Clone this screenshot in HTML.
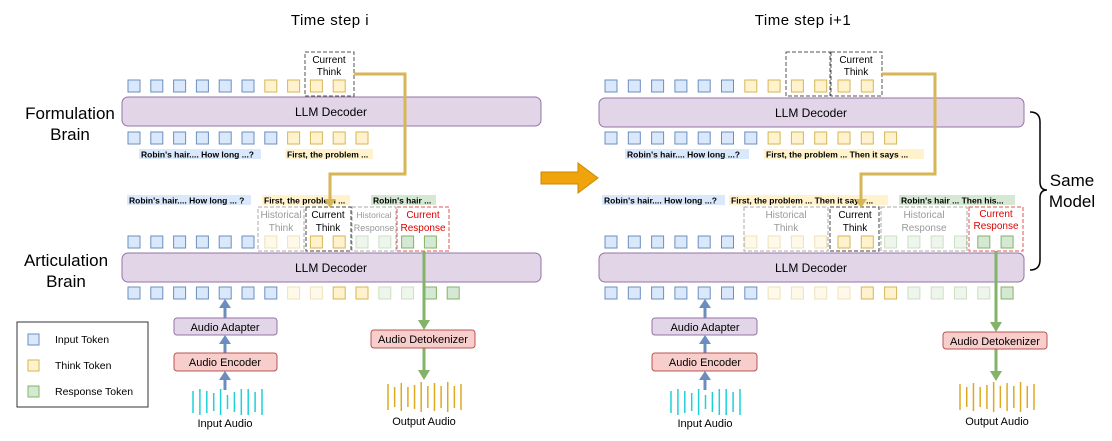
<!DOCTYPE html>
<html><head><meta charset="utf-8"><style>
body{margin:0;background:#fff;}
svg{display:block;font-family:"Liberation Sans",Arial,sans-serif;}
</style></head><body>
<svg id="s" width="1112" height="441" viewBox="0 0 1112 441" xmlns="http://www.w3.org/2000/svg">
<text x="330" y="25" font-size="15" text-anchor="middle" letter-spacing="0.5">Time step i</text>
<text x="803" y="25" font-size="15" text-anchor="middle" letter-spacing="0.5">Time step i+1</text>
<g font-size="17" text-anchor="middle">
<text x="70" y="119">Formulation</text><text x="70" y="140">Brain</text>
<text x="66" y="266">Articulation</text><text x="66" y="287">Brain</text>
<text x="1072" y="186">Same</text><text x="1072" y="207">Model</text>
</g>
<g fill="#e1d5e7" stroke="#9673a6" stroke-width="1">
<rect x="122" y="97" width="419" height="29" rx="6"/>
<rect x="122" y="253" width="419" height="29" rx="6"/>
<rect x="599" y="98" width="425" height="29" rx="6"/>
<rect x="599" y="253" width="425" height="29" rx="6"/>
</g>
<g font-size="12" text-anchor="middle">
<text x="331" y="116">LLM Decoder</text><text x="331" y="272">LLM Decoder</text>
<text x="811" y="117">LLM Decoder</text><text x="811" y="272">LLM Decoder</text>
</g>
<g id="tok"></g>
<g font-size="8.5" font-weight="bold">
<rect x="139" y="149" width="122" height="10" fill="#dae8fc"/><text x="141" y="157.5">Robin's hair.... How long ...?</text>
<rect x="285" y="149" width="88" height="10" fill="#fff2cc"/><text x="287" y="157.5">First, the problem ...</text>
<rect x="127" y="195" width="124" height="10" fill="#dae8fc"/><text x="129" y="203.5">Robin's hair.... How long ... ?</text>
<rect x="262" y="195" width="88" height="10" fill="#fff2cc"/><text x="264" y="203.5">First, the problem ...</text>
<rect x="371" y="195" width="65" height="10" fill="#d5e8d4"/><text x="373" y="203.5">Robin's hair ...</text>
<rect x="625" y="149" width="124" height="10" fill="#dae8fc"/><text x="627" y="157.5">Robin's hair.... How long ...?</text>
<rect x="764" y="149" width="160" height="10" fill="#fff2cc"/><text x="766" y="157.5">First, the problem ... Then it says ...</text>
<rect x="602" y="195" width="123" height="10" fill="#dae8fc"/><text x="604" y="203.5">Robin's hair.... How long ...?</text>
<rect x="729" y="195" width="159" height="10" fill="#fff2cc"/><text x="731" y="203.5">First, the problem ... Then it says ...</text>
<rect x="899" y="195" width="116" height="10" fill="#d5e8d4"/><text x="901" y="203.5">Robin's hair ... Then his...</text>
</g>
<g fill="none" stroke-dasharray="4,2" stroke-width="1">
<rect x="305" y="52" width="49" height="44" stroke="#555"/>
<rect x="786" y="52" width="44" height="44" stroke="#555"/>
<rect x="831" y="52" width="51" height="44" stroke="#555"/>
<rect x="258" y="207" width="46" height="44" stroke="#aaa"/>
<rect x="306" y="207" width="45" height="44" stroke="#444"/>
<rect x="352" y="207" width="44" height="44" stroke="#aaa"/>
<rect x="397" y="207" width="52" height="44" stroke="#e05555"/>
<rect x="744" y="207" width="84" height="44" stroke="#aaa"/>
<rect x="830" y="207" width="49" height="44" stroke="#444"/>
<rect x="881" y="207" width="86" height="44" stroke="#aaa"/>
<rect x="969" y="207" width="54" height="44" stroke="#e05555"/>
</g>
<g font-size="10" text-anchor="middle">
<text x="329" y="63">Current</text><text x="329" y="75">Think</text>
<text x="856" y="63">Current</text><text x="856" y="75">Think</text>
<text x="281" y="218" fill="#999">Historical</text><text x="281" y="231" fill="#999">Think</text>
<text x="328" y="218">Current</text><text x="328" y="231">Think</text>
<text x="374" y="218" fill="#999" font-size="8.5">Historical</text><text x="374" y="231" fill="#999" font-size="9">Response</text>
<text x="423" y="218" fill="#dd0000">Current</text><text x="423" y="231" fill="#dd0000">Response</text>
<text x="786" y="218" fill="#999">Historical</text><text x="786" y="231" fill="#999">Think</text>
<text x="855" y="218">Current</text><text x="855" y="231">Think</text>
<text x="924" y="218" fill="#999">Historical</text><text x="924" y="231" fill="#999">Response</text>
<text x="996" y="217" fill="#dd0000">Current</text><text x="996" y="229" fill="#dd0000">Response</text>
</g>
<g fill="none" stroke="#d6b656" stroke-width="3">
<polyline points="354,74 405,74 405,174 330,174 330,200"/>
<polyline points="882,74 935,74 935,174 861,174 861,200"/>
</g>
<g fill="#d6b656"><polygon points="324,199 336,199 330,208"/><polygon points="855,199 867,199 861,208"/></g>
<g stroke="#82b366" stroke-width="3" fill="none">
<line x1="424" y1="251" x2="424" y2="322"/><line x1="424" y1="348" x2="424" y2="372"/>
<line x1="996" y1="251" x2="996" y2="324"/><line x1="996" y1="349" x2="996" y2="373"/>
</g>
<g fill="#82b366"><polygon points="418,320 430,320 424,330"/><polygon points="418,370 430,370 424,380"/>
<polygon points="990,322 1002,322 996,332"/><polygon points="990,371 1002,371 996,381"/></g>
<g stroke="#6c8ebf" stroke-width="3">
<line x1="225" y1="306" x2="225" y2="318"/><line x1="225" y1="342" x2="225" y2="353"/><line x1="225" y1="378" x2="225" y2="390"/>
<line x1="705" y1="306" x2="705" y2="318"/><line x1="705" y1="342" x2="705" y2="353"/><line x1="705" y1="378" x2="705" y2="390"/>
</g>
<g fill="#6c8ebf"><polygon points="219,308 231,308 225,299"/><polygon points="219,344 231,344 225,335"/><polygon points="219,380 231,380 225,371"/>
<polygon points="699,308 711,308 705,299"/><polygon points="699,344 711,344 705,335"/><polygon points="699,380 711,380 705,371"/></g>
<g stroke-width="1">
<rect x="174" y="318" width="103" height="17" rx="3" fill="#e1d5e7" stroke="#9673a6"/>
<rect x="174" y="353" width="103" height="18" rx="3" fill="#f8cecc" stroke="#b85450"/>
<rect x="652" y="318" width="105" height="17" rx="3" fill="#e1d5e7" stroke="#9673a6"/>
<rect x="652" y="353" width="105" height="18" rx="3" fill="#f8cecc" stroke="#b85450"/>
<rect x="371" y="330" width="104" height="18" rx="3" fill="#f8cecc" stroke="#b85450"/>
<rect x="943" y="332" width="104" height="17" rx="3" fill="#f8cecc" stroke="#b85450"/>
</g>
<g font-size="11" text-anchor="middle">
<text x="225" y="331">Audio Adapter</text><text x="225" y="366">Audio Encoder</text>
<text x="705" y="331">Audio Adapter</text><text x="705" y="366">Audio Encoder</text>
<text x="423" y="343">Audio Detokenizer</text><text x="995" y="345">Audio Detokenizer</text>
<text x="225" y="427">Input Audio</text><text x="705" y="427">Input Audio</text>
<text x="424" y="425">Output Audio</text><text x="997" y="425">Output Audio</text>
</g>
<g id="bars"></g>
<rect x="17" y="322" width="131" height="85" fill="#fff" stroke="#333"/>
<rect x="28" y="334" width="11" height="11" fill="#dae8fc" stroke="#6c8ebf"/>
<rect x="28" y="360" width="11" height="11" fill="#fff2cc" stroke="#d6b656"/>
<rect x="28" y="386" width="11" height="11" fill="#d5e8d4" stroke="#82b366"/>
<g font-size="10.5"><text x="55" y="343">Input Token</text><text x="55" y="369">Think Token</text><text x="55" y="395">Response Token</text></g>
<path d="M1030,112 Q1040,112 1040,122 L1040,182 Q1040,190 1047,190 Q1040,190 1040,198 L1040,260 Q1040,270 1030,270" fill="none" stroke="#000" stroke-width="1.5"/>
<polygon points="541,172 578,172 578,163 598,178 578,193 578,184 541,184" fill="#f0a30a" stroke="#c98a00" stroke-width="1"/>
</svg>
<script>
var NS="http://www.w3.org/2000/svg",T=document.getElementById("tok");
var C={b:["#dae8fc","#6c8ebf",1],y:["#fff2cc","#d6b656",1],g:["#d5e8d4","#82b366",1],Y:["#fff2cc","#d6b656",0.4],G:["#d5e8d4","#82b366",0.4]};
function row(x0,step,y,s){for(var i=0;i<s.length;i++){var c=C[s[i]],r=document.createElementNS(NS,"rect");
r.setAttribute("x",x0+i*step);r.setAttribute("y",y);r.setAttribute("width",12);r.setAttribute("height",12);
r.setAttribute("fill",c[0]);r.setAttribute("stroke",c[1]);r.setAttribute("opacity",c[2]);T.appendChild(r);}}
row(128,22.8,80,"bbbbbbyyyy");
row(128,22.8,132,"bbbbbbbyyyy");
row(128,22.8,236,"bbbbbbYYyyGGgg");
row(128,22.8,287,"bbbbbbbYYyyGGgg");
row(605,23.3,80,"bbbbbbyyyyyy");
row(605,23.3,132,"bbbbbbbyyyyyy");
row(605,23.3,236,"bbbbbbYYYYyyGGGGgg");
row(605,23.3,287,"bbbbbbbYYYYyyGGGGg");
var B=document.getElementById("bars");
function bars(x0,w,col,hs,base){var n=hs.length;for(var i=0;i<n;i++){var l=document.createElementNS(NS,"line");var x=x0+i*w/(n-1),h=hs[i];
l.setAttribute("x1",x);l.setAttribute("x2",x);l.setAttribute("y1",base-h/2);l.setAttribute("y2",base+h/2);l.setAttribute("stroke",col);l.setAttribute("stroke-width",1.5);B.appendChild(l);}}
var hi=[22,26,22,18,26,14,20,26,26,20,26],ho=[26,20,28,20,24,30,22,28,22,30,22,26];
bars(193,69,"#1fd0d8",hi,402);bars(671,69,"#1fd0d8",hi,402);
bars(388,73,"#e0a820",ho,397);bars(960,74,"#e0a820",ho,397);
</script>
</body></html>
